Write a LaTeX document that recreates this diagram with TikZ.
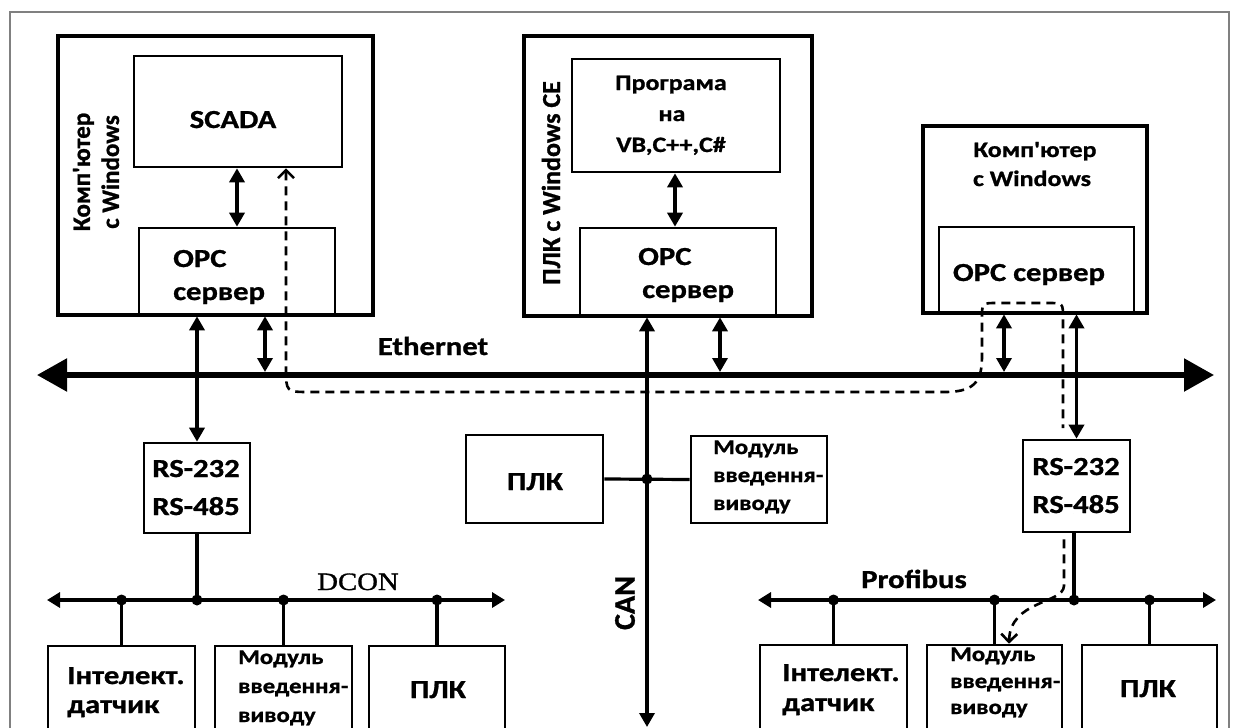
\documentclass[tikz,border=0pt]{standalone}
\usepackage{fontspec}
\setmainfont{Carlito}[FakeStretch=1.18, FakeBold=1, Ligatures=TeXOff]
\newfontfamily\rotfont{Carlito}[FakeBold=1]
\newfontfamily\serfont{Liberation Serif}[FakeStretch=1.15, FakeBold=1.2]
\usetikzlibrary{arrows.meta,calc}
\definecolor{framegray}{RGB}{128,128,128}
\tikzset{
  box/.style={draw, line width=2.6pt, inner sep=0pt},
  obox/.style={draw, line width=3.4pt, inner sep=0pt},
  txt/.style={inner sep=0pt, font=\bfseries\fontsize{26}{31}\selectfont},
  mtxt/.style={inner sep=0pt, font=\bfseries\fontsize{22}{31}\selectfont},
  stxt/.style={inner sep=0pt, font=\bfseries\fontsize{21}{28}\selectfont},
  rtxt/.style={inner sep=0pt, rotate=90, font=\rotfont\bfseries\fontsize{25}{29}\selectfont, align=center},
  dbl/.style={line width=3.4pt, {Triangle[length=14pt,width=15pt]}-{Triangle[length=14pt,width=15pt]}},
  ether/.style={line width=5.5pt, {Triangle[length=30pt,width=32pt]}-{Triangle[length=30pt,width=32pt]}},
  busline/.style={line width=3.4pt, {Triangle[length=13pt,width=15pt]}-{Triangle[length=13pt,width=15pt]}},
  wire/.style={line width=3.2pt},
  dot/.style={circle, fill=black, inner sep=0pt, minimum size=11pt},
  dsh/.style={line width=2.6pt, dash pattern=on 9pt off 6pt}
}
\begin{document}
\begin{tikzpicture}[x=1pt,y=-1pt]
\useasboundingbox (0,0) rectangle (1240,728);
\clip (0,0) rectangle (1240,728);
\fill[white] (0,0) rectangle (1240,728);
\draw[line width=2pt, framegray] (10,12) rectangle (1229,780);

% ---- top-left computer
\node[obox, minimum width=315pt, minimum height=279pt] (comp1) at (215.5,175.5) {};
\node[box, minimum width=208pt, minimum height=111pt] (scada) at (238,111.5) {};
\node[txt] (scadat) at (233,128) [anchor=base] {SCADA};
\node[box, minimum width=196pt, minimum height=87pt] (opc1) at (237,271.5) {};
\node[txt, anchor=base west] (opc1a) at (173,267) {OPC};
\node[txt, anchor=base west] (opc1b) at (173,300) {сервер};
\node[rtxt] (comp1t) at (96,172) {Комп'ютер\\с Windows};

% ---- top-middle PLC with Windows CE
\node[obox, minimum width=288pt, minimum height=280pt] (plcce) at (668,176) {};
\node[box, minimum width=208pt, minimum height=113pt] (prog) at (676,115.5) {};
\node[mtxt, anchor=base] (prog1) at (671,90) {Програма};
\node[mtxt, anchor=base] (prog2) at (672,121) {на};
\node[mtxt, anchor=base] (prog3) at (671,152) {VB,C++,C\#};
\node[box, minimum width=196pt, minimum height=88pt] (opc2) at (678,272) {};
\node[txt, anchor=base west] (opc2a) at (638,265) {OPC};
\node[txt, anchor=base west] (opc2b) at (642,298) {сервер};
\node[rtxt, font=\rotfont\bfseries\fontsize{26}{30}\selectfont] (plccet) at (551,183) {ПЛК с Windows CE};

% ---- top-right computer
\node[obox, minimum width=224pt, minimum height=187pt] (comp2) at (1035,219.5) {};
\node[mtxt, anchor=base] (comp2a) at (1035,157) {Комп'ютер};
\node[mtxt, anchor=base] (comp2b) at (1032,186) {с Windows};
\node[box, minimum width=195pt, minimum height=86pt] (opc3) at (1036.5,270) {};
\node[txt, anchor=base] (opc3t) at (1029,281) {OPC сервер};

% ---- Ethernet
\coordinate (ethL) at (37,375);
\coordinate (ethR) at (1214,375);
\draw[ether] (ethL) -- (ethR);
\node[txt, anchor=base] (etht) at (433,355) {Ethernet};

% ---- RS converters
\node[box, minimum width=106pt, minimum height=90pt] (rs1) at (197,488) {};
\node[txt, anchor=base] (rs1a) at (196,477) {RS-232};
\node[txt, anchor=base] (rs1b) at (196,515) {RS-485};
\node[box, minimum width=107pt, minimum height=92pt] (rs2) at (1076.5,486) {};
\node[txt, anchor=base] (rs2a) at (1076,475) {RS-232};
\node[txt, anchor=base] (rs2b) at (1076,513) {RS-485};

% ---- CAN group
\node[box, minimum width=137pt, minimum height=88pt] (plcm) at (534.5,479) {};
\node[txt, anchor=base] (plcmt) at (535,490) {ПЛК};
\node[box, minimum width=136pt, minimum height=87pt] (modm) at (759,479.5) {};
\node[stxt, anchor=base west] (modm1) at (713,454) {Модуль};
\node[stxt, anchor=base west] (modm2) at (713,482) {введення-};
\node[stxt, anchor=base west] (modm3) at (713,510) {виводу};
\coordinate (canEnd) at (647,727);
\node[rtxt, font=\rotfont\bfseries\fontsize{30}{34}\selectfont] (cant) at (625,603) {CAN};

% ---- bottom boxes (DCON)
\node[box, minimum width=147pt, minimum height=124pt] (int1) at (121.5,708) {};
\node[box, minimum width=137pt, minimum height=124pt] (mod1) at (283.5,708) {};
\node[box, minimum width=136pt, minimum height=124pt] (plc1) at (437,708) {};
\node[txt, anchor=base west] (int1a) at (67,684) {Інтелект.};
\node[txt, anchor=base west] (int1b) at (67,713) {датчик};
\node[stxt, anchor=base west] (mod1a) at (238,664) {Модуль};
\node[stxt, anchor=base west] (mod1b) at (238,693) {введення-};
\node[stxt, anchor=base west] (mod1c) at (238,722) {виводу};
\node[txt, anchor=base] (plc1t) at (438,698) {ПЛК};

% ---- bottom boxes (Profibus)
\node[box, minimum width=147pt, minimum height=124pt] (int2) at (833.5,707) {};
\node[box, minimum width=135pt, minimum height=124pt] (mod2) at (994.5,707) {};
\node[box, minimum width=135pt, minimum height=124pt] (plc2) at (1149.5,707) {};
\node[txt, anchor=base west] (int2a) at (782,681) {Інтелект.};
\node[txt, anchor=base west] (int2b) at (782,711) {датчик};
\node[stxt, anchor=base west] (mod2a) at (950,661) {Модуль};
\node[stxt, anchor=base west] (mod2b) at (950,688) {введення-};
\node[stxt, anchor=base west] (mod2c) at (950,714) {виводу};
\node[txt, anchor=base] (plc2t) at (1148,697) {ПЛК};

% ---- buses
\coordinate (dconL) at (47,600);
\coordinate (dconR) at (505,600);
\coordinate (profL) at (758,600);
\coordinate (profR) at (1216,600);
\draw[busline] (dconL) -- (dconR);
\draw[busline] (profL) -- (profR);
\node[inner sep=0pt, font=\serfont\fontsize{25}{28}\selectfont, anchor=base] (dcont) at (358,590) {DCON};
\node[txt, anchor=base] (proft) at (914,588) {Profibus};

% ---- vertical connectors
\draw[dbl] (scada.south -| 237,0) -- (opc1.north -| 237,0);
\draw[dbl] (prog.south -| 675,0) -- (opc2.north -| 675,0);
\draw[dbl] (opc1.south -| rs1.north) -- (rs1.north);
\draw[dbl] (opc1.south -| 265,0) -- (265,372);
\draw[dbl] (opc2.south -| canEnd) -- (canEnd);
\draw[dbl] (opc2.south -| 720,0) -- (720,372);
\draw[dbl] (opc3.south -| 1004,0) -- (1004,372);
\draw[dbl] (opc3.south -| rs2.north) -- (rs2.north);

\draw[wire] (plcm.east) -- (modm.west);
\node[dot] (canj) at (647,479) {};

\draw[wire] (rs1.south) -- (rs1.south |- dconL);
\node[dot] (dj0) at (rs1.south |- dconL) {};
\draw[wire] (int1.north) -- (int1.north |- dconL);
\node[dot] (dj1) at (int1.north |- dconL) {};
\draw[wire] (mod1.north) -- (mod1.north |- dconL);
\node[dot] (dj2) at (mod1.north |- dconL) {};
\draw[wire] (plc1.north) -- (plc1.north |- dconL);
\node[dot] (dj3) at (plc1.north |- dconL) {};

\draw[wire] (rs2.south -| 1074,0) -- (1074,600);
\node[dot] (pj0) at (1074,600) {};
\draw[wire] (int2.north) -- (int2.north |- profL);
\node[dot] (pj1) at (int2.north |- profL) {};
\draw[wire] (mod2.north) -- (mod2.north |- profL);
\node[dot] (pj2) at (mod2.north |- profL) {};
\draw[wire] (plc2.north) -- (plc2.north |- profL);
\node[dot] (pj3) at (plc2.north |- profL) {};

% ---- dashed data path
\draw[dsh, {Straight Barb[length=8pt,width=16pt]}-] (scada.south -| 286,0) -- (286,368)
   .. controls (286,392) .. (310,392) -- (945,392)
   .. controls (978,392) and (982,378) .. (982,355) -- (982,318)
   .. controls (982,303) .. (997,303) -- (1048,303)
   .. controls (1063,303) .. (1063,318) -- (1063,428);
\draw[dsh, -{Straight Barb[length=8pt,width=16pt]}] (rs2.south -| 1064,0) ++(0,6) -- (1064,586)
   .. controls (1063,604) and (1010,600) .. (mod2.north -| 1009,0);
\end{tikzpicture}
\end{document}
